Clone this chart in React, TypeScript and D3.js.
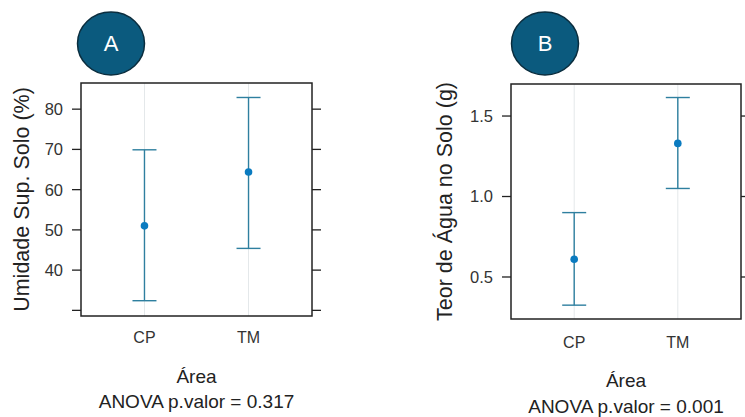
import React from "react";
import * as d3 from "d3";

const categories = ["CP", "TM"];

// Panel A: Umidade Sup. Solo (%)
const meanA = [51.0, 64.4];
const lowerA = [32.4, 45.4];
const upperA = [69.9, 82.9];
const ticksA = [30, 40, 50, 60, 70, 80];
const tickLabelsA = ["", "40", "50", "60", "70", "80"];

// Panel B: Teor de Água no Solo (g)
const meanB = [0.61, 1.33];
const lowerB = [0.325, 1.05];
const upperB = [0.9, 1.615];
const ticksB = [0.5, 1.0, 1.5];
const tickLabelsB = ["0.5", "1.0", "1.5"];

const FONT = "'Liberation Sans', Arial, sans-serif";

type PanelProps = {
  x0: number; x1: number; y0: number; y1: number;
  domain: [number, number];
  mean: number[]; lower: number[]; upper: number[];
  ticks: number[]; tickLabels: string[];
  title: string; titleX: number;
  letter: string; letterCx: number;
  catY: number; areaY: number; anovaY: number; pval: string;
};

function Panel(p: PanelProps) {
  const x = d3.scalePoint<string>().domain(categories).range([p.x0, p.x1]).padding(0.61);
  const y = d3.scaleLinear().domain(p.domain).range([p.y1, p.y0]);
  const cx = (p.x0 + p.x1) / 2;
  const line = "#2e7f9f";
  const dot = "#0a7bc0";
  return (
    <g>
      {categories.map((c) => (
        <line key={"g" + c} x1={x(c)} x2={x(c)} y1={p.y0} y2={p.y1} stroke="#e4e8ea" strokeWidth={1} />
      ))}
      {categories.map((c, i) => {
        const xc = x(c) as number;
        return (
          <g key={"e" + c}>
            <line x1={xc} x2={xc} y1={y(p.upper[i])} y2={y(p.lower[i])} stroke={line} strokeWidth={1.4} />
            <line x1={xc - 12} x2={xc + 12} y1={y(p.upper[i])} y2={y(p.upper[i])} stroke={line} strokeWidth={1.4} />
            <line x1={xc - 12} x2={xc + 12} y1={y(p.lower[i])} y2={y(p.lower[i])} stroke={line} strokeWidth={1.4} />
            <circle cx={xc} cy={y(p.mean[i])} r={3.8} fill={dot} />
          </g>
        );
      })}
      <rect x={p.x0} y={p.y0} width={p.x1 - p.x0} height={p.y1 - p.y0} fill="none" stroke="#222" strokeWidth={1.5} />
      {p.ticks.map((t, i) => (
        <g key={"t" + t}>
          <line x1={p.x0 - 9} x2={p.x0} y1={y(t)} y2={y(t)} stroke="#222" strokeWidth={1.3} />
          <line x1={p.x1} x2={p.x1 + 9} y1={y(t)} y2={y(t)} stroke="#222" strokeWidth={1.3} />
          <text x={p.x0 - 18} y={y(t)} dy="0.36em" textAnchor="end" fontSize={16.5} fill="#333" fontFamily={FONT}>
            {p.tickLabels[i]}
          </text>
        </g>
      ))}
      {categories.map((c) => (
        <text key={"c" + c} x={x(c)} y={p.catY} textAnchor="middle" fontSize={16} fill="#333" fontFamily={FONT}>
          {c}
        </text>
      ))}
      <text
        transform={`translate(${p.titleX},${(p.y0 + p.y1) / 2}) rotate(-90)`}
        textAnchor="middle" fontSize={21.5} fill="#222" fontFamily={FONT}
      >
        {p.title}
      </text>
      <text x={cx} y={p.areaY} textAnchor="middle" fontSize={19} fill="#222" fontFamily={FONT}>Área</text>
      <text x={cx} y={p.anovaY} textAnchor="middle" fontSize={19} fill="#222" fontFamily={FONT}>
        {"ANOVA p.valor = " + p.pval}
      </text>
      <ellipse cx={p.letterCx} cy={43.5} rx={33.5} ry={31.5} fill="#0b5a7e" stroke="#0a2d3e" strokeWidth={1.5} />
      <text x={p.letterCx} y={43.5} dy="0.36em" textAnchor="middle" fontSize={22} fill="#fff" fontFamily={FONT}>
        {p.letter}
      </text>
    </g>
  );
}

export default function App() {
  return (
    <svg width={745} height={417} style={{ position: "absolute", left: 0, top: 0, background: "#fff" }}>
      <Panel
        x0={81} x1={312} y0={83} y1={316}
        domain={[28.6, 86.5]}
        mean={meanA} lower={lowerA} upper={upperA}
        ticks={ticksA} tickLabels={tickLabelsA}
        title="Umidade Sup. Solo (%)" titleX={29}
        letter="A" letterCx={111}
        catY={343} areaY={383} anovaY={408} pval="0.317"
      />
      <Panel
        x0={511} x1={741} y0={84} y1={319}
        domain={[0.239, 1.699]}
        mean={meanB} lower={lowerB} upper={upperB}
        ticks={ticksB} tickLabels={tickLabelsB}
        title="Teor de Água no Solo (g)" titleX={452}
        letter="B" letterCx={545}
        catY={348} areaY={387} anovaY={413} pval="0.001"
      />
    </svg>
  );
}
